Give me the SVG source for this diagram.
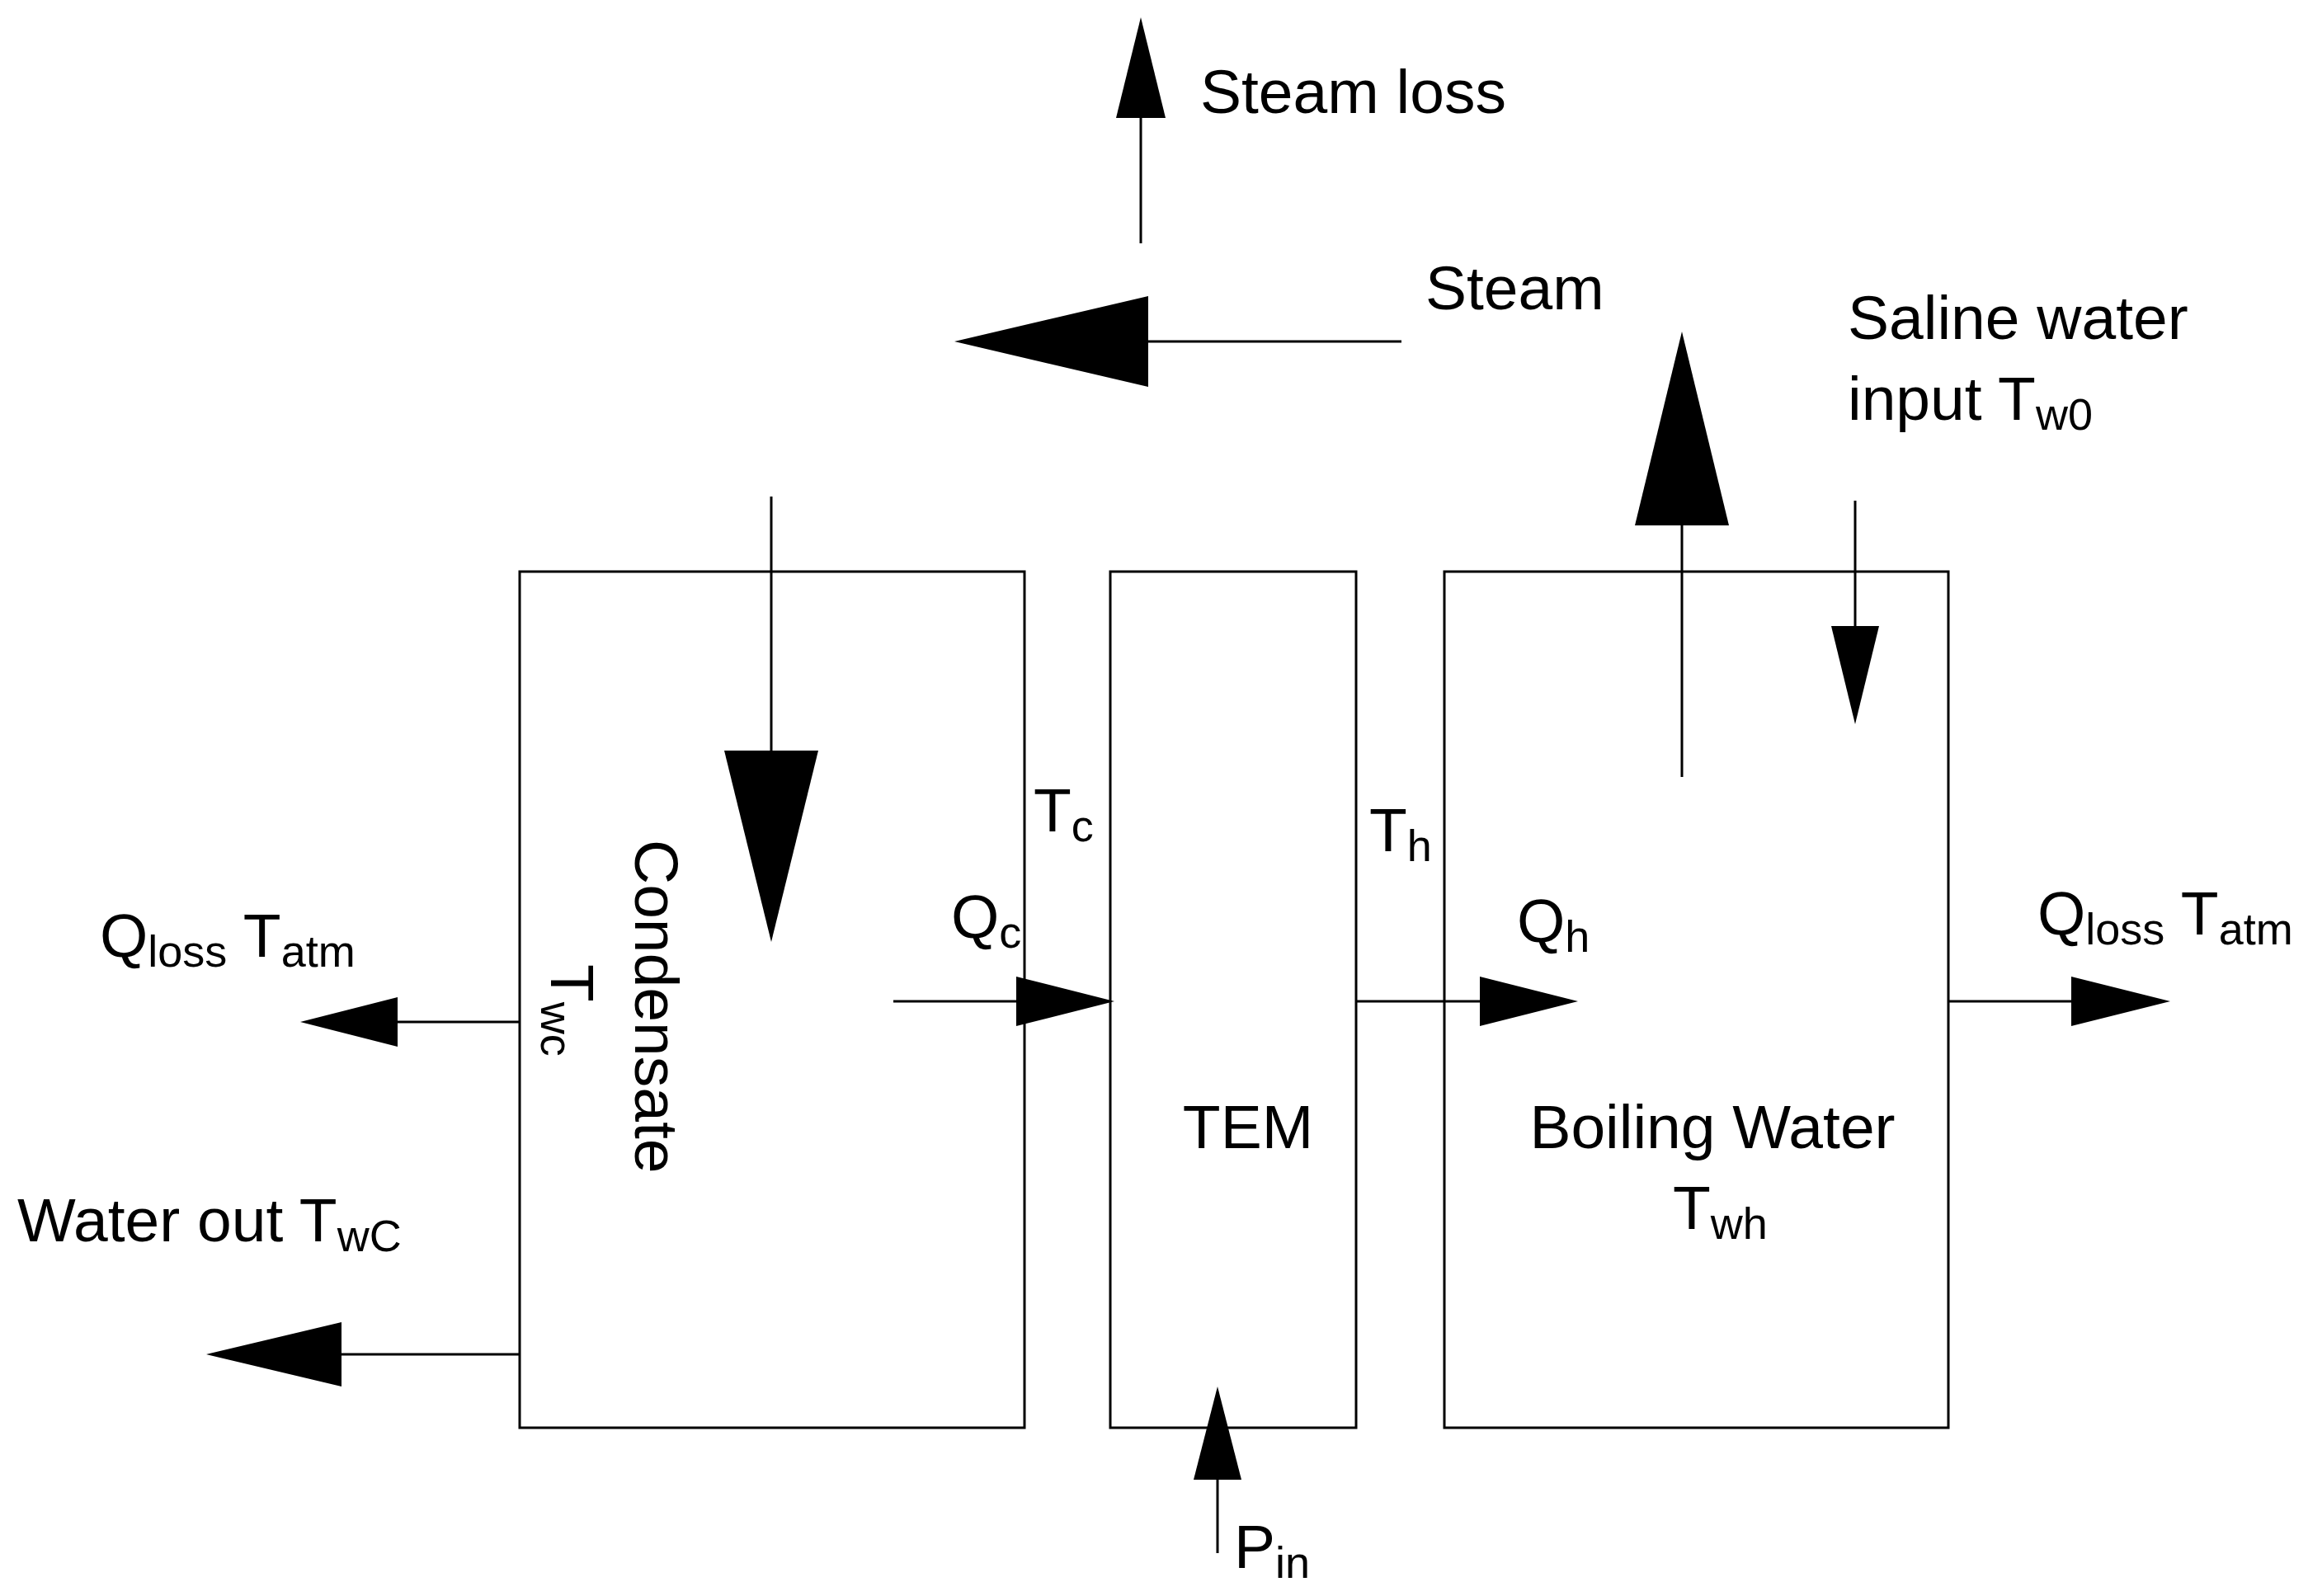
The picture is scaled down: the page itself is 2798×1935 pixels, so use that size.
<svg xmlns="http://www.w3.org/2000/svg" width="2798" height="1935" viewBox="0 0 2798 1935">
<style>
.b{fill:none;stroke:#000;stroke-width:3}
.l{stroke:#000;stroke-width:3;fill:none}
.h{fill:#000}
text{font-family:"Liberation Sans",Arial,sans-serif;font-size:75px;fill:#000}
.s{font-size:54px}
</style>
<rect width="2798" height="1935" fill="#fff"/>
<g id="condensate"><rect class="b" x="630" y="693" width="612" height="1038"/>
<text transform="translate(770,1018) rotate(90)">Condensate</text>
<text transform="translate(668,1169) rotate(90)">T<tspan class="s" dy="12">wc</tspan></text></g>
<g id="tem"><rect class="b" x="1346" y="693" width="298" height="1038"/>
<text x="1513" y="1392" text-anchor="middle">TEM</text></g>
<g id="boiling"><rect class="b" x="1751" y="693" width="611" height="1038"/>
<text x="2076" y="1392" text-anchor="middle">Boiling Water</text>
<text x="2028" y="1490">T<tspan class="s" dy="12">wh</tspan></text></g>
<g id="connectors">
<line class="l" x1="1383" y1="295" x2="1383" y2="140"/><polygon class="h" points="1383,21 1353,143 1413,143"/>
<line class="l" x1="1699" y1="414" x2="1390" y2="414"/><polygon class="h" points="1157,414 1392,359 1392,469"/>
<line class="l" x1="2039" y1="942" x2="2039" y2="635"/><polygon class="h" points="2039,402 1982,637 2096,637"/>
<line class="l" x1="2249" y1="607" x2="2249" y2="761"/><polygon class="h" points="2249,878 2220,759 2278,759"/>
<line class="l" x1="935" y1="602" x2="935" y2="912"/><polygon class="h" points="935,1142 878,910 992,910"/>
<line class="l" x1="1083" y1="1214" x2="1234" y2="1214"/><polygon class="h" points="1351,1214 1232,1184 1232,1244"/>
<line class="l" x1="1644" y1="1214" x2="1796" y2="1214"/><polygon class="h" points="1913,1214 1794,1184 1794,1244"/>
<line class="l" x1="2362" y1="1214" x2="2513" y2="1214"/><polygon class="h" points="2631,1214 2511,1184 2511,1244"/>
<line class="l" x1="630" y1="1239" x2="480" y2="1239"/><polygon class="h" points="364,1239 482,1209 482,1269"/>
<line class="l" x1="630" y1="1642" x2="412" y2="1642"/><polygon class="h" points="250,1642 414,1603 414,1681"/>
<line class="l" x1="1476" y1="1883" x2="1476" y2="1792"/><polygon class="h" points="1476,1681 1447,1794 1505,1794"/>
</g>
<g id="labels">
<text x="1455" y="137">Steam loss</text>
<text x="1728" y="375">Steam</text>
<text x="2240" y="411">Saline water</text>
<text x="2240" y="509">input T<tspan class="s" dy="12">w0</tspan></text>
<text x="121" y="1160">Q<tspan class="s" dy="12">loss</tspan><tspan dy="-12"> T</tspan><tspan class="s" dy="12">atm</tspan></text>
<text x="2470" y="1133">Q<tspan class="s" dy="12">loss</tspan><tspan dy="-12"> T</tspan><tspan class="s" dy="12">atm</tspan></text>
<text x="1253" y="1008">T<tspan class="s" dy="12">c</tspan></text>
<text x="1660" y="1032">T<tspan class="s" dy="12">h</tspan></text>
<text x="1153" y="1137">Q<tspan class="s" dy="12">c</tspan></text>
<text x="1839" y="1142">Q<tspan class="s" dy="12">h</tspan></text>
<text x="21" y="1505">Water out T<tspan class="s" dy="12">wC</tspan></text>
<text x="1496" y="1901">P<tspan class="s" dy="12">in</tspan></text>
</g>
</svg>
